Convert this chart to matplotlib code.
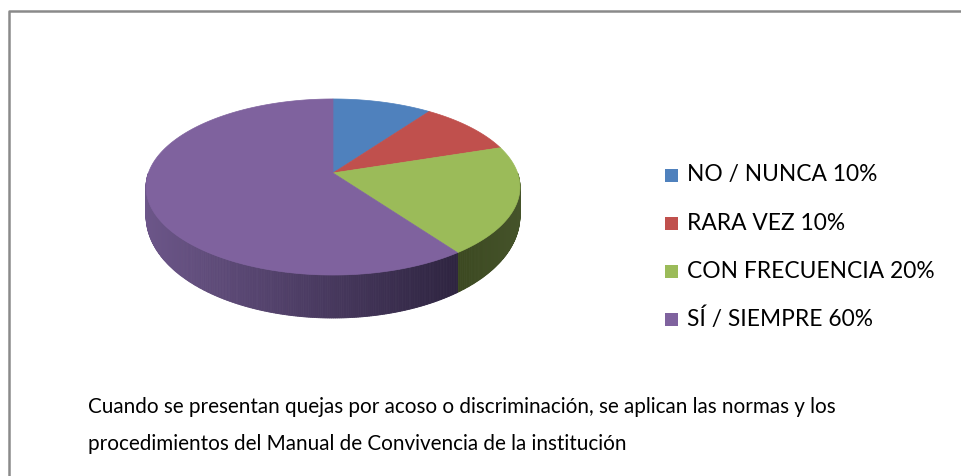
import numpy as np
import matplotlib
matplotlib.use('Agg')
from matplotlib import pyplot as plt
from matplotlib.patches import Polygon, Rectangle
from matplotlib.colors import to_rgb

categories = ['NO / NUNCA', 'RARA VEZ', 'CON FRECUENCIA', 'SÍ / SIEMPRE']
values = [10, 10, 20, 60]
top_colors = ['#4f81bd', '#c0504d', '#9bbb59', '#7f629e']
side_left = ['#3a6190', '#8e3b39', '#3b4820', '#6c5689']
side_right = ['#2f4f75', '#702e2c', '#45532a', '#2e2440']
caption_lines = ['Cuando se presentan quejas por acoso o discriminación, se aplican las normas y los',
                 'procedimientos del Manual de Convivencia de la institución']

fig = plt.figure(figsize=(9.61, 4.76), dpi=100)
ax = fig.add_axes([0, 0, 1, 1])
ax.set_xlim(0, 961)
ax.set_ylim(476, 0)
ax.axis('off')

# frame
ax.plot([8.5, 8.5, 961], [476, 10.5, 10.5], color='#8a8a8a', lw=1.8, solid_capstyle='butt')

# perspective pie geometry (pixels)
cx, cy = 333, 173
s, h, k = 184.6, 85.8, 0.159


def proj(t):
    u, v = np.cos(t), np.sin(t)
    w = 1 + k * v
    return cx + s * u / w, cy - h * v / w


def depth(t):
    v = np.sin(t)
    return 26 + 17 * np.clip(-v, 0, 1)


total = sum(values)
bounds = 90 - 360 * np.concatenate([[0], np.cumsum(values)]) / total

# side walls
for i in range(len(values)):
    a0, a1 = bounds[i], bounds[i + 1]
    for shift in (0, -360, 360):
        lo = max(min(a0, a1) + shift, -180)
        hi = min(max(a0, a1) + shift, 0)
        if hi <= lo:
            continue
        ts = np.radians(np.linspace(lo, hi, int((hi - lo) * 2) + 2))
        c0, c1 = np.array(to_rgb(side_left[i])), np.array(to_rgb(side_right[i]))
        xs_all = [proj(t)[0] for t in ts]
        xmin, xmax = min(xs_all), max(xs_all)
        for j in range(len(ts) - 1):
            x0, y0 = proj(ts[j])
            x1, y1 = proj(ts[j + 1])
            f = ((x0 + x1) / 2 - xmin) / max(xmax - xmin, 1)
            col = c0 + (c1 - c0) * f
            ax.add_patch(Polygon([(x0, y0), (x1, y1), (x1, y1 + depth(ts[j + 1])),
                                  (x0, y0 + depth(ts[j]))], closed=True,
                                 facecolor=col, edgecolor=col, lw=0.6))

# top faces
for i in range(len(values)):
    ts = np.radians(np.linspace(bounds[i], bounds[i + 1], 200))
    pts = [(cx, cy)] + [proj(t) for t in ts]
    ax.add_patch(Polygon(pts, closed=True, facecolor=top_colors[i],
                         edgecolor=top_colors[i], lw=0.5))

# legend
for i, name in enumerate(categories):
    yc = 175 + 48 * i
    ax.add_patch(Rectangle((665, yc - 6.5), 13, 13, facecolor=top_colors[i], edgecolor='none'))
    ax.text(687, yc, f'{name} {values[i]}%', fontsize=16.4, family='Lato',
            va='center', ha='left', color='#000000')

# caption, sized so the first line spans about 750 px
fig.canvas.draw()
renderer = fig.canvas.get_renderer()
probe = ax.text(0, 0, caption_lines[0], fontsize=15, family='Lato')
w = probe.get_window_extent(renderer).width
probe.remove()
size = 15 * 750 / w
for i, line in enumerate(caption_lines):
    ax.text(88, 407 + 37 * i, line, fontsize=size, family='Lato', va='center',
            ha='left', color='#000000')

fig.savefig('out.png', dpi=100)
